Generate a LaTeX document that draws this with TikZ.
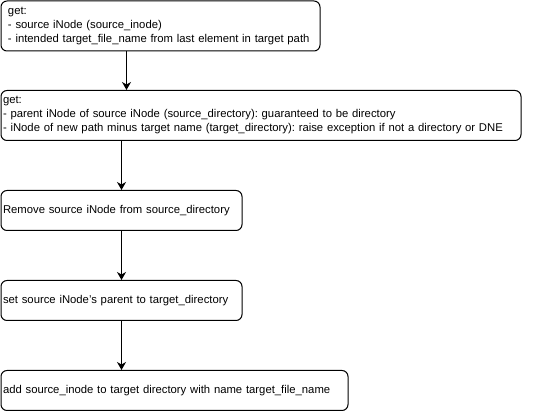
\documentclass[tikz,border=0pt]{standalone}
\usepackage{fontspec}
\setmainfont{Liberation Sans}
\usetikzlibrary{arrows.meta,positioning,calc}
\frenchspacing

\begin{document}
\begin{tikzpicture}[x=1pt,y=-1pt,
    step box/.style={draw,line width=1pt,rounded corners=6pt,anchor=north west,
      align=left,font=\fontsize{11.3}{14}\selectfont,inner ysep=0pt},
    flow/.style={-{Stealth[length=8pt,width=9pt,inset=2.5pt]},line width=1pt}]
      \useasboundingbox (0,0) rectangle (541,411);

      \node[step box,inner xsep=7pt,text width=305pt,minimum height=50pt] at (0.5,0.5) (get1)
        {get:\\- source iNode (source\_inode)\\- intended target\_file\_name from last element in target path};
      \node[step box,inner xsep=2pt,text width=516pt,minimum height=50pt] at (0.5,90) (get2)
        {get:\\- parent iNode of source iNode (source\_directory): guaranteed to be directory\\- iNode of new path minus target name (target\_directory): raise exception if not a directory or DNE};
      \node[step box,inner xsep=2pt,text width=237pt,minimum height=40pt] at (0.5,190) (remove)
        {Remove source iNode from source\_directory};
      \node[step box,inner xsep=2pt,text width=237pt,minimum height=40pt] at (0.5,280) (parent)
        {set source iNode's parent to target\_directory};
      \node[step box,inner xsep=2pt,text width=343pt,minimum height=40pt] at (0.5,370) (add)
        {add source\_inode to target directory with name target\_file\_name};

      \coordinate (out1) at ($(get1.south west)+(126,0)$);
      \coordinate (out2) at ($(get2.south west)+(121,0)$);
      \draw[flow] (out1) -- (out1 |- get2.north);
      \draw[flow] (out2) -- (remove.north);
      \draw[flow] (remove) -- (parent);
      \draw[flow] (parent) -- (add.north -| parent.south);
    \end{tikzpicture}
\end{document}
